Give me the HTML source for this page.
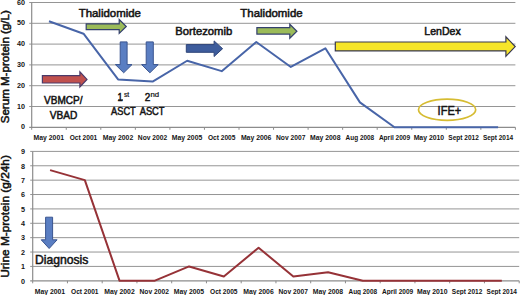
<!DOCTYPE html>
<html><head><meta charset="utf-8"><style>
html,body{margin:0;padding:0;background:#fff;}
svg{display:block;}
text{font-family:"Liberation Sans",sans-serif;fill:#141414;}
.yt{font-size:7.2px;font-weight:bold;text-anchor:end;}
.xt{font-size:7.2px;font-weight:bold;text-anchor:middle;}
.lb,.yl{stroke:#141414;stroke-width:0.5px;}
.sp{stroke:#141414;stroke-width:0.2px;}
</style></head><body>
<svg width="520" height="295" viewBox="0 0 520 295">
<rect width="520" height="295" fill="#fff"/>
<line x1="29.2" y1="2.5" x2="515.4" y2="2.5" stroke="#959595" stroke-width="1"/>
<line x1="29.2" y1="23.3" x2="515.4" y2="23.3" stroke="#959595" stroke-width="1"/>
<line x1="29.2" y1="44.1" x2="515.4" y2="44.1" stroke="#959595" stroke-width="1"/>
<line x1="29.2" y1="64.9" x2="515.4" y2="64.9" stroke="#959595" stroke-width="1"/>
<line x1="29.2" y1="85.7" x2="515.4" y2="85.7" stroke="#959595" stroke-width="1"/>
<line x1="29.2" y1="106.5" x2="515.4" y2="106.5" stroke="#959595" stroke-width="1"/>
<line x1="31.7" y1="2.5" x2="31.7" y2="127.3" stroke="#8c8c8c" stroke-width="1.2"/>
<line x1="29.2" y1="127.3" x2="515.4" y2="127.3" stroke="#8c8c8c" stroke-width="1.3"/>
<line x1="31.7" y1="127.3" x2="31.7" y2="129.8" stroke="#8c8c8c" stroke-width="1"/>
<line x1="66.25" y1="127.3" x2="66.25" y2="129.8" stroke="#8c8c8c" stroke-width="1"/>
<line x1="100.8" y1="127.3" x2="100.8" y2="129.8" stroke="#8c8c8c" stroke-width="1"/>
<line x1="135.35" y1="127.3" x2="135.35" y2="129.8" stroke="#8c8c8c" stroke-width="1"/>
<line x1="169.9" y1="127.3" x2="169.9" y2="129.8" stroke="#8c8c8c" stroke-width="1"/>
<line x1="204.45" y1="127.3" x2="204.45" y2="129.8" stroke="#8c8c8c" stroke-width="1"/>
<line x1="239" y1="127.3" x2="239" y2="129.8" stroke="#8c8c8c" stroke-width="1"/>
<line x1="273.55" y1="127.3" x2="273.55" y2="129.8" stroke="#8c8c8c" stroke-width="1"/>
<line x1="308.1" y1="127.3" x2="308.1" y2="129.8" stroke="#8c8c8c" stroke-width="1"/>
<line x1="342.65" y1="127.3" x2="342.65" y2="129.8" stroke="#8c8c8c" stroke-width="1"/>
<line x1="377.2" y1="127.3" x2="377.2" y2="129.8" stroke="#8c8c8c" stroke-width="1"/>
<line x1="411.75" y1="127.3" x2="411.75" y2="129.8" stroke="#8c8c8c" stroke-width="1"/>
<line x1="446.3" y1="127.3" x2="446.3" y2="129.8" stroke="#8c8c8c" stroke-width="1"/>
<line x1="480.85" y1="127.3" x2="480.85" y2="129.8" stroke="#8c8c8c" stroke-width="1"/>
<line x1="515.4" y1="127.3" x2="515.4" y2="129.8" stroke="#8c8c8c" stroke-width="1"/>
<line x1="30.2" y1="151.4" x2="519.2" y2="151.4" stroke="#959595" stroke-width="1"/>
<line x1="30.2" y1="165.78" x2="519.2" y2="165.78" stroke="#959595" stroke-width="1"/>
<line x1="30.2" y1="180.16" x2="519.2" y2="180.16" stroke="#959595" stroke-width="1"/>
<line x1="30.2" y1="194.53" x2="519.2" y2="194.53" stroke="#959595" stroke-width="1"/>
<line x1="30.2" y1="208.91" x2="519.2" y2="208.91" stroke="#959595" stroke-width="1"/>
<line x1="30.2" y1="223.29" x2="519.2" y2="223.29" stroke="#959595" stroke-width="1"/>
<line x1="30.2" y1="237.67" x2="519.2" y2="237.67" stroke="#959595" stroke-width="1"/>
<line x1="30.2" y1="252.04" x2="519.2" y2="252.04" stroke="#959595" stroke-width="1"/>
<line x1="30.2" y1="266.42" x2="519.2" y2="266.42" stroke="#959595" stroke-width="1"/>
<line x1="32.7" y1="151.4" x2="32.7" y2="280.8" stroke="#8c8c8c" stroke-width="1.2"/>
<line x1="30.2" y1="280.8" x2="519.2" y2="280.8" stroke="#8c8c8c" stroke-width="1.3"/>
<line x1="32.7" y1="280.8" x2="32.7" y2="283.3" stroke="#8c8c8c" stroke-width="1"/>
<line x1="67.45" y1="280.8" x2="67.45" y2="283.3" stroke="#8c8c8c" stroke-width="1"/>
<line x1="102.2" y1="280.8" x2="102.2" y2="283.3" stroke="#8c8c8c" stroke-width="1"/>
<line x1="136.95" y1="280.8" x2="136.95" y2="283.3" stroke="#8c8c8c" stroke-width="1"/>
<line x1="171.7" y1="280.8" x2="171.7" y2="283.3" stroke="#8c8c8c" stroke-width="1"/>
<line x1="206.45" y1="280.8" x2="206.45" y2="283.3" stroke="#8c8c8c" stroke-width="1"/>
<line x1="241.2" y1="280.8" x2="241.2" y2="283.3" stroke="#8c8c8c" stroke-width="1"/>
<line x1="275.95" y1="280.8" x2="275.95" y2="283.3" stroke="#8c8c8c" stroke-width="1"/>
<line x1="310.7" y1="280.8" x2="310.7" y2="283.3" stroke="#8c8c8c" stroke-width="1"/>
<line x1="345.45" y1="280.8" x2="345.45" y2="283.3" stroke="#8c8c8c" stroke-width="1"/>
<line x1="380.2" y1="280.8" x2="380.2" y2="283.3" stroke="#8c8c8c" stroke-width="1"/>
<line x1="414.95" y1="280.8" x2="414.95" y2="283.3" stroke="#8c8c8c" stroke-width="1"/>
<line x1="449.7" y1="280.8" x2="449.7" y2="283.3" stroke="#8c8c8c" stroke-width="1"/>
<line x1="484.45" y1="280.8" x2="484.45" y2="283.3" stroke="#8c8c8c" stroke-width="1"/>
<line x1="519.2" y1="280.8" x2="519.2" y2="283.3" stroke="#8c8c8c" stroke-width="1"/>
<text x="25" y="129.45" class="yt">0</text>
<text x="25" y="108.65" class="yt">10</text>
<text x="25" y="87.85" class="yt">20</text>
<text x="25" y="67.05" class="yt">30</text>
<text x="25" y="46.25" class="yt">40</text>
<text x="25" y="25.45" class="yt">50</text>
<text x="25" y="4.65" class="yt">60</text>
<text x="25" y="283.6" class="yt">0</text>
<text x="25" y="269.22" class="yt">1</text>
<text x="25" y="254.84" class="yt">2</text>
<text x="25" y="240.47" class="yt">3</text>
<text x="25" y="226.09" class="yt">4</text>
<text x="25" y="211.71" class="yt">5</text>
<text x="25" y="197.33" class="yt">6</text>
<text x="25" y="182.96" class="yt">7</text>
<text x="25" y="168.58" class="yt">8</text>
<text x="25" y="154.2" class="yt">9</text>
<text x="48.83" y="139.6" class="xt" textLength="30.48" lengthAdjust="spacingAndGlyphs">May 2001</text>
<text x="49.93" y="293.5" class="xt" textLength="30.48" lengthAdjust="spacingAndGlyphs">May 2001</text>
<text x="83.49" y="139.6" class="xt" textLength="27.53" lengthAdjust="spacingAndGlyphs">Oct 2001</text>
<text x="84.79" y="293.5" class="xt" textLength="27.53" lengthAdjust="spacingAndGlyphs">Oct 2001</text>
<text x="117.96" y="139.6" class="xt" textLength="30.55" lengthAdjust="spacingAndGlyphs">May 2002</text>
<text x="119.46" y="293.5" class="xt" textLength="30.55" lengthAdjust="spacingAndGlyphs">May 2002</text>
<text x="152.53" y="139.6" class="xt" textLength="29.35" lengthAdjust="spacingAndGlyphs">Nov 2002</text>
<text x="154.23" y="293.5" class="xt" textLength="29.35" lengthAdjust="spacingAndGlyphs">Nov 2002</text>
<text x="187.03" y="139.6" class="xt" textLength="30.48" lengthAdjust="spacingAndGlyphs">May 2005</text>
<text x="188.93" y="293.5" class="xt" textLength="30.48" lengthAdjust="spacingAndGlyphs">May 2005</text>
<text x="221.69" y="139.6" class="xt" textLength="27.53" lengthAdjust="spacingAndGlyphs">Oct 2005</text>
<text x="223.79" y="293.5" class="xt" textLength="27.53" lengthAdjust="spacingAndGlyphs">Oct 2005</text>
<text x="256.16" y="139.6" class="xt" textLength="30.55" lengthAdjust="spacingAndGlyphs">May 2006</text>
<text x="258.46" y="293.5" class="xt" textLength="30.55" lengthAdjust="spacingAndGlyphs">May 2006</text>
<text x="290.73" y="139.6" class="xt" textLength="29.35" lengthAdjust="spacingAndGlyphs">Nov 2007</text>
<text x="293.23" y="293.5" class="xt" textLength="29.35" lengthAdjust="spacingAndGlyphs">Nov 2007</text>
<text x="325.23" y="139.6" class="xt" textLength="30.48" lengthAdjust="spacingAndGlyphs">May 2008</text>
<text x="327.93" y="293.5" class="xt" textLength="30.48" lengthAdjust="spacingAndGlyphs">May 2008</text>
<text x="359.91" y="139.6" class="xt" textLength="28.59" lengthAdjust="spacingAndGlyphs">Aug 2008</text>
<text x="362.81" y="293.5" class="xt" textLength="28.59" lengthAdjust="spacingAndGlyphs">Aug 2008</text>
<text x="394.51" y="139.6" class="xt" textLength="31.19" lengthAdjust="spacingAndGlyphs">April 2009</text>
<text x="397.61" y="293.5" class="xt" textLength="31.19" lengthAdjust="spacingAndGlyphs">April 2009</text>
<text x="428.91" y="139.6" class="xt" textLength="30.55" lengthAdjust="spacingAndGlyphs">May 2010</text>
<text x="432.21" y="293.5" class="xt" textLength="30.55" lengthAdjust="spacingAndGlyphs">May 2010</text>
<text x="463.61" y="139.6" class="xt" textLength="30.48" lengthAdjust="spacingAndGlyphs">Sept 2012</text>
<text x="467.11" y="293.5" class="xt" textLength="30.48" lengthAdjust="spacingAndGlyphs">Sept 2012</text>
<text x="498.06" y="139.6" class="xt" textLength="30.29" lengthAdjust="spacingAndGlyphs">Sept 2014</text>
<text x="501.76" y="293.5" class="xt" textLength="30.29" lengthAdjust="spacingAndGlyphs">Sept 2014</text>
<polyline points="48.97,21.22 83.52,33.7 118.08,79.46 152.62,81.54 187.17,60.74 221.72,71.14 256.27,42.02 290.82,66.98 325.37,48.26 359.92,102.34 394.47,127.3 429.02,127.3 463.57,127.3 498.12,127.3" fill="none" stroke="#4865a8" stroke-width="2" stroke-linejoin="round" stroke-linecap="butt"/>
<polyline points="50.08,170.09 84.83,180.16 119.58,280.8 154.33,280.8 189.08,266.42 223.83,276.49 258.58,247.73 293.33,276.49 328.08,272.17 362.83,280.8 397.58,280.8 432.33,280.8 467.08,280.8 501.83,280.8" fill="none" stroke="#963237" stroke-width="2" stroke-linejoin="round" stroke-linecap="butt"/>
<polygon points="86.2,23.8 119.2,23.8 119.2,19.5 126.3,26.45 119.2,33.4 119.2,29.6 86.2,29.6" fill="#9bbb59" stroke="#34406e" stroke-width="1.2" stroke-linejoin="miter"/>
<polygon points="256.9,27.6 289.8,27.6 289.8,24.2 296.9,31.2 289.8,38.2 289.8,34.1 256.9,34.1" fill="#9bbb59" stroke="#34406e" stroke-width="1.2" stroke-linejoin="miter"/>
<polygon points="42.4,75.7 79.9,75.7 79.9,71.8 87,79.4 79.9,87 79.9,83 42.4,83" fill="#c0504d" stroke="#4a3a6a" stroke-width="1.2" stroke-linejoin="miter"/>
<polygon points="186.3,44.6 214.1,44.6 214.1,40.9 222.6,48.7 214.1,56.5 214.1,52.3 186.3,52.3" fill="#3d5c9c" stroke="#2e4478" stroke-width="1" stroke-linejoin="miter"/>
<polygon points="335.3,42 505.9,42 505.9,36.8 515.2,46.55 505.9,56.3 505.9,50.9 335.3,50.9" fill="#f6e52a" stroke="#383850" stroke-width="1.2" stroke-linejoin="miter"/>
<polygon points="120.2,41.9 127.1,41.9 127.1,64.6 132,64.6 123.7,72.8 115.4,64.6 120.2,64.6" fill="#5a7ec2" stroke="#3a5590" stroke-width="1" stroke-linejoin="miter"/>
<polygon points="146.2,41.9 153.3,41.9 153.3,64.6 158.2,64.6 149.9,72.8 141.6,64.6 146.2,64.6" fill="#5a7ec2" stroke="#3a5590" stroke-width="1" stroke-linejoin="miter"/>
<polygon points="45.6,217.2 52.6,217.2 52.6,239.8 57.1,239.8 49.15,248.5 41.2,239.8 45.6,239.8" fill="#5a7ec2" stroke="#3a5590" stroke-width="1" stroke-linejoin="miter"/>
<text x="78.67" y="17" class="lb" style="font-size:10.6px" textLength="62.27" lengthAdjust="spacingAndGlyphs">Thalidomide</text>
<text x="240.37" y="16.9" class="lb" style="font-size:10.6px" textLength="62.27" lengthAdjust="spacingAndGlyphs">Thalidomide</text>
<text x="175.3" y="34.7" class="lb" style="font-size:10.6px" textLength="56.92" lengthAdjust="spacingAndGlyphs">Bortezomib</text>
<text x="424.36" y="34.5" class="lb" style="font-size:10.4px" textLength="36.32" lengthAdjust="spacingAndGlyphs">LenDex</text>
<text x="44" y="104.2" class="lb" style="font-size:10.4px" textLength="38.54" lengthAdjust="spacingAndGlyphs">VBMCP/</text>
<text x="49.8" y="118.9" class="lb" style="font-size:10.4px" textLength="27.64" lengthAdjust="spacingAndGlyphs">VBAD</text>
<text x="117.56" y="100.5" class="lb" style="font-size:10.6px" textLength="5.17" lengthAdjust="spacingAndGlyphs">1</text>
<line x1="118.1" y1="99.9" x2="123" y2="99.9" stroke="#141414" stroke-width="1.1"/>
<text x="124" y="96.6" class="sp" style="font-size:6.4px" textLength="5.26" lengthAdjust="spacingAndGlyphs">st</text>
<text x="144.8" y="100.5" class="lb" style="font-size:10.6px" textLength="5.56" lengthAdjust="spacingAndGlyphs">2</text>
<text x="150.46" y="96.6" class="sp" style="font-size:6.4px" textLength="8.63" lengthAdjust="spacingAndGlyphs">nd</text>
<text x="111.1" y="115.1" class="lb" style="font-size:10.8px" textLength="24.65" lengthAdjust="spacingAndGlyphs">ASCT</text>
<text x="139.7" y="115.1" class="lb" style="font-size:10.8px" textLength="24.85" lengthAdjust="spacingAndGlyphs">ASCT</text>
<text x="437.61" y="114.9" class="lb" style="font-size:12.2px" textLength="23.54" lengthAdjust="spacingAndGlyphs">IFE+</text>
<text x="34.93" y="263.6" class="lb" style="font-size:11.9px" textLength="53.48" lengthAdjust="spacingAndGlyphs">Diagnosis</text>
<ellipse cx="447.1" cy="109.8" rx="28.6" ry="10.6" fill="none" stroke="#d6bc32" stroke-width="1.7"/>
<text transform="translate(9.2,123.28) rotate(-90)" class="yl" style="font-size:10.9px" textLength="113.08" lengthAdjust="spacingAndGlyphs">Serum M-protein (g/L)</text>
<text transform="translate(9.2,277.75) rotate(-90)" class="yl" style="font-size:10.9px" textLength="122.63" lengthAdjust="spacingAndGlyphs">Urine M-protein (g/24h)</text>
</svg>
</body></html>
